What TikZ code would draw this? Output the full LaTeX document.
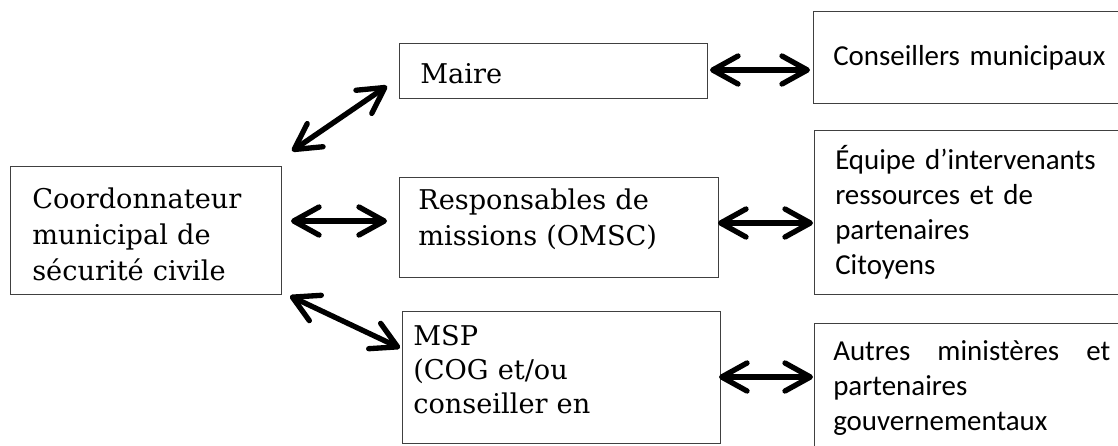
\documentclass[tikz,border=0pt]{standalone}
\usepackage{fontspec}
\setmainfont{DejaVu Serif}
\newfontfamily\sansfam{Carlito}
\usetikzlibrary{arrows.meta}
\tikzset{
  box/.style={draw=black!75, line width=0.9pt, rectangle, inner sep=0pt, anchor=north west},
  serift/.style={inner sep=0pt, anchor=base west, text width=240pt, align=left,
    font=\fontsize{20.4pt}{27pt}\selectfont},
  sanst/.style={inner sep=0pt, anchor=base west, text width=240pt, align=left,
    font=\sansfam\fontsize{21.7pt}{26.25pt}\selectfont},
  conn/.style={line width=4pt, line cap=round,
    {Straight Barb[length=19pt,width=21pt,round]}-{Straight Barb[length=19pt,width=21pt,round]}}
}
\begin{document}
\begin{tikzpicture}[x=0.75pt,y=-0.75pt]
\useasboundingbox (0,0) rectangle (1118,446);
% boxes
\node[box, minimum width=271*0.75pt, minimum height=128*0.75pt] (coord) at (10,166) {};
\node[box, minimum width=308*0.75pt, minimum height=55*0.75pt] (maire) at (399,43) {};
\node[box, minimum width=319*0.75pt, minimum height=100*0.75pt] (resp) at (399,177) {};
\node[box, minimum width=318*0.75pt, minimum height=132*0.75pt] (msp) at (402,311) {};
\node[box, minimum width=320*0.75pt, minimum height=92*0.75pt] (cons) at (813,11) {};
\node[box, minimum width=320*0.75pt, minimum height=164*0.75pt] (equipe) at (814,130) {};
\node[box, minimum width=320*0.75pt, minimum height=140*0.75pt] (autres) at (814,323) {};
% texts
\node[serift] (tcoord) at (32,208) {Coordonnateur\\municipal de\\sécurité civile};
\node[serift] (tmaire) at (420,83) {Maire};
\node[serift] (tresp) at (418,209) {Responsables de\\missions (OMSC)};
\node[serift, font=\fontsize{20.4pt}{25.5pt}\selectfont] (tmsp) at (413,345) {MSP\\(COG et/ou\\conseiller en};
\node[sanst] (tcons) at (833,65) {Conseillers municipaux};
\node[sanst] (tequipe) at (835,169) {Équipe d’intervenants\\ressources et de\\partenaires\\Citoyens};
\node[sanst] (tautres) at (833,360) {\hbox to 207.75pt{Autres\hfill ministères\hfill et}\\partenaires\\gouvernementaux};
% connector ends
\coordinate (c1a) at (292,151); \coordinate (c1b) at (387,86);
\coordinate (c2a) at (291,221); \coordinate (c2b) at (387,221);
\coordinate (c3a) at (290,296); \coordinate (c3b) at (400,348);
\coordinate (c4a) at (710,70);  \coordinate (c4b) at (810,70);
\coordinate (c5a) at (718,223); \coordinate (c5b) at (813,223);
\coordinate (c6a) at (719,377); \coordinate (c6b) at (813,377);
% connectors
\draw[conn] (c1a) -- (c1b);
\draw[conn] (c2a) -- (c2b);
\draw[conn] (c3a) -- (c3b);
\draw[conn] (c4a) -- (c4b);
\draw[conn] (c5a) -- (c5b);
\draw[conn] (c6a) -- (c6b);
\end{tikzpicture}
\end{document}
